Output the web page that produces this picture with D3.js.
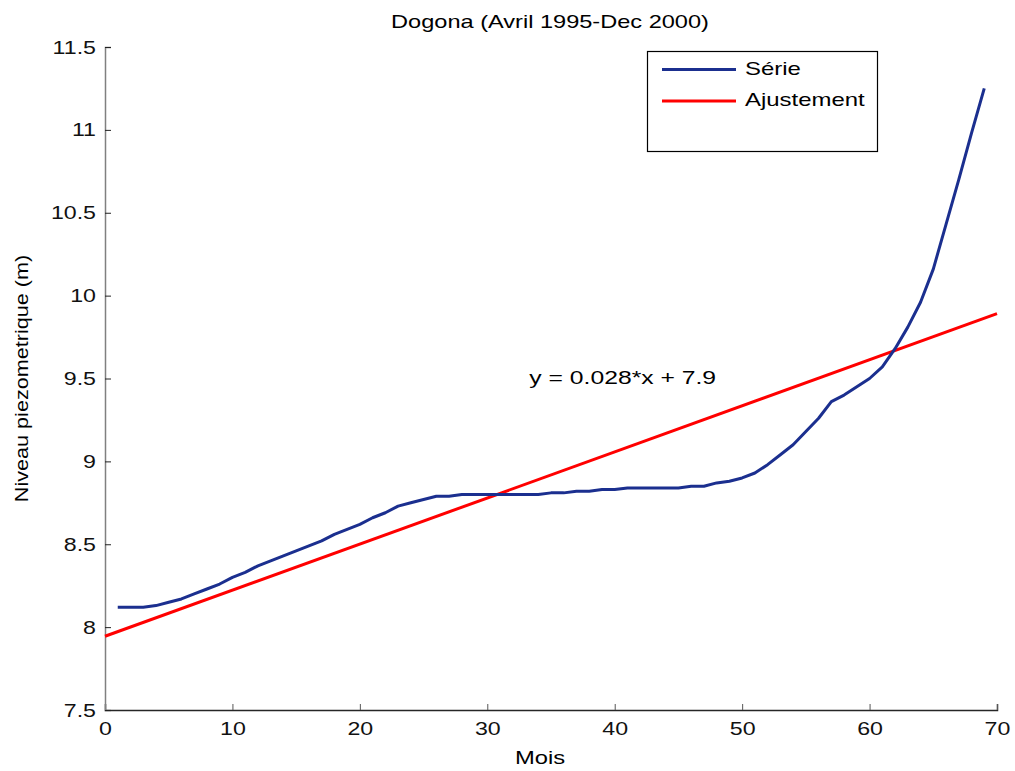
<!DOCTYPE html>
<html>
<head>
<meta charset="utf-8">
<script src="https://cdn.jsdelivr.net/npm/d3@7"></script>
<style>
  html, body { margin: 0; padding: 0; background: #fff; }
  svg { display: block; font-family: "Liberation Sans", Arial, sans-serif; }
</style>
</head>
<body>
<svg id="chart" width="1015" height="771"></svg>
<script>
// Monthly piezometric level at Dogona, April 1995 - December 2000
const months = d3.range(1, 70);
const niveau = [
  8.12, 8.12, 8.12, 8.13, 8.15, 8.17, 8.20, 8.23, 8.26, 8.30,
  8.33, 8.37, 8.40, 8.43, 8.46, 8.49, 8.52, 8.56, 8.59, 8.62,
  8.66, 8.69, 8.73, 8.75, 8.77, 8.79, 8.79, 8.80, 8.80, 8.80,
  8.80, 8.80, 8.80, 8.80, 8.81, 8.81, 8.82, 8.82, 8.83, 8.83,
  8.84, 8.84, 8.84, 8.84, 8.84, 8.85, 8.85, 8.87, 8.88, 8.90,
  8.93, 8.98, 9.04, 9.10, 9.18, 9.26, 9.36, 9.40, 9.45, 9.50,
  9.57, 9.68, 9.81, 9.96, 10.16, 10.43, 10.70, 10.98, 11.25
];

// Linear trend (slope per month, intercept)
const slope = 0.0278;
const intercept = 7.945;
const fitRange = [0, 70];

const xTicks = [0, 10, 20, 30, 40, 50, 60, 70];
const yTicks = [7.5, 8, 8.5, 9, 9.5, 10, 10.5, 11, 11.5];

const title = "Dogona (Avril 1995-Dec 2000)";
const xLabel = "Mois";
const yLabel = "Niveau piezometrique (m)";
const legendLabels = ["Série", "Ajustement"];
const colors = ["#1b2f8f", "#ff0000"];

const svg = d3.select("#chart");
const m = { left: 105, right: 997, top: 47, bottom: 710 };

const x = d3.scaleLinear().domain([0, 70]).range([m.left, m.right]);
const y = d3.scaleLinear().domain([7.5, 11.5]).range([m.bottom, m.top]);

// Widen glyphs horizontally (the export font is broader than Liberation Sans)
function widen(sel, f) {
  sel.each(function () {
    const w = this.getComputedTextLength();
    d3.select(this).attr("textLength", w * f).attr("lengthAdjust", "spacingAndGlyphs");
  });
  return sel;
}

// Title
svg.append("text")
  .attr("x", 550).attr("y", 28)
  .attr("text-anchor", "middle")
  .attr("font-size", 19)
  .text(title)
  .call(widen, 1.24);

// X axis (ticks pointing into the plot)
const xAxis = svg.append("g")
  .attr("transform", `translate(0,${m.bottom})`)
  .call(d3.axisBottom(x).tickValues(xTicks).tickSize(-6).tickPadding(12).tickFormat(d3.format("d")));
xAxis.select(".domain").attr("stroke", "#262626").attr("stroke-width", 1.5);
xAxis.selectAll(".tick line").attr("stroke", "#555");
xAxis.selectAll("text").attr("font-size", 19).attr("fill", "#111")
  .attr("font-family", "Liberation Sans, Arial, sans-serif")
  .call(widen, 1.22);

// Y axis
const yAxis = svg.append("g")
  .attr("transform", `translate(${m.left},0)`)
  .call(d3.axisLeft(y).tickValues(yTicks).tickSize(-6).tickPadding(9).tickFormat(d3.format("")));
yAxis.select(".domain").attr("stroke", "#808080").attr("stroke-width", 1.5);
yAxis.selectAll(".tick line").attr("stroke", "#222");
yAxis.selectAll("text").attr("font-size", 19).attr("fill", "#111")
  .attr("font-family", "Liberation Sans, Arial, sans-serif")
  .call(widen, 1.22);

// Axis labels
svg.append("text")
  .attr("x", 540).attr("y", 764)
  .attr("text-anchor", "middle")
  .attr("font-size", 19)
  .text(xLabel)
  .call(widen, 1.25);

svg.append("text")
  .attr("transform", `translate(28,${(m.top + m.bottom) / 2 + 0}) rotate(-90)`)
  .attr("text-anchor", "middle")
  .attr("font-size", 18)
  .text(yLabel)
  .call(widen, 1.2);

// Trend line
const fitLine = d3.line().x(d => x(d)).y(d => y(intercept + slope * d));
svg.append("path")
  .datum(fitRange)
  .attr("d", fitLine)
  .attr("fill", "none")
  .attr("stroke", colors[1])
  .attr("stroke-width", 3);

// Observed series
const serie = months.map((mo, i) => ({ mo, v: niveau[i] }));
svg.append("path")
  .datum(serie)
  .attr("d", d3.line().x(d => x(d.mo)).y(d => y(d.v)))
  .attr("fill", "none")
  .attr("stroke", colors[0])
  .attr("stroke-width", 3)
  .attr("stroke-linejoin", "round");

// Equation annotation
svg.append("text")
  .attr("x", x(33.3)).attr("y", y(9.5))
  .attr("dominant-baseline", "middle")
  .attr("font-size", 19)
  .text(`y = ${d3.format(".3f")(slope)}*x + ${(Math.floor(intercept * 10) / 10).toFixed(1)}`)
  .call(widen, 1.3);

// Legend
const lg = svg.append("g");
lg.append("rect")
  .attr("x", 647.5).attr("y", 51.5)
  .attr("width", 230).attr("height", 100)
  .attr("fill", "#fff").attr("stroke", "#000").attr("stroke-width", 1.2);
legendLabels.forEach((lab, i) => {
  const ly = 69.5 + i * 31.5;
  lg.append("line")
    .attr("x1", 662).attr("x2", 736)
    .attr("y1", ly).attr("y2", ly)
    .attr("stroke", colors[i]).attr("stroke-width", 3);
  lg.append("text")
    .attr("x", 745).attr("y", ly)
    .attr("dominant-baseline", "middle")
    .attr("font-size", 19)
    .text(lab)
    .call(widen, 1.26);
});
</script>
</body>
</html>
